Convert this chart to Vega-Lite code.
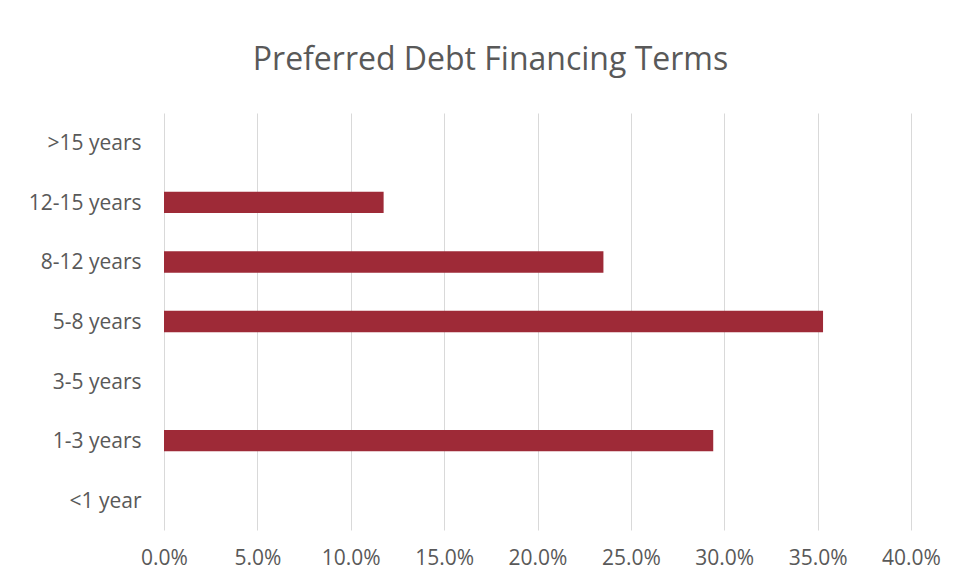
{
  "$schema": "https://vega.github.io/schema/vega-lite/v6.json",
  "autosize": {"type": "none"},
  "width": 747,
  "height": 417,
  "padding": {"left": 164, "top": 113, "right": 47, "bottom": 55},
  "background": "white",
  "config": {"view": {"stroke": null}, "font": "Open Sans"},
  "title": {
    "text": "Preferred Debt Financing Terms",
    "anchor": "middle",
    "dx": -47,
    "offset": 36,
    "fontSize": 32,
    "font": "Open Sans",
    "fontWeight": "normal",
    "color": "#595959"
  },
  "data": {
    "values": [
      {"term": ">15 years", "share": 0},
      {"term": "12-15 years", "share": 0.1176},
      {"term": "8-12 years", "share": 0.2353},
      {"term": "5-8 years", "share": 0.3529},
      {"term": "3-5 years", "share": 0},
      {"term": "1-3 years", "share": 0.2941},
      {"term": "<1 year", "share": 0}
    ]
  },
  "mark": {"type": "bar", "color": "#9E2A37"},
  "encoding": {
    "y": {
      "field": "term",
      "type": "nominal",
      "sort": null,
      "scale": {"paddingInner": 0.64, "paddingOuter": 0.32},
      "axis": {
        "title": null,
        "domain": false,
        "ticks": false,
        "labelPadding": 23,
        "labelOffset": 1.5,
        "labelFontSize": 21,
        "labelColor": "#595959",
        "labelFont": "Open Sans"
      }
    },
    "x": {
      "field": "share",
      "type": "quantitative",
      "scale": {"domain": [0, 0.4], "nice": false},
      "axis": {
        "title": null,
        "values": [0, 0.05, 0.1, 0.15, 0.2, 0.25, 0.3, 0.35, 0.4],
        "format": ".1%",
        "domain": false,
        "ticks": false,
        "grid": true,
        "gridColor": "#D9D9D9",
        "gridWidth": 1,
        "labelFlush": false,
        "labelPadding": 17,
        "labelFontSize": 21,
        "labelColor": "#595959",
        "labelFont": "Open Sans"
      }
    }
  }
}
